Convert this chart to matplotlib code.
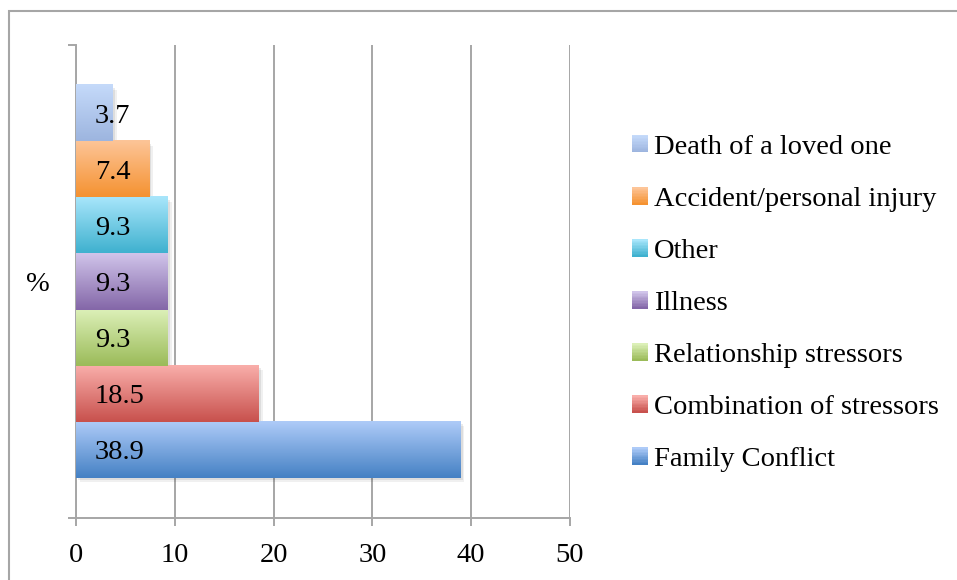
import numpy as np
import matplotlib
matplotlib.use("Agg")
import matplotlib.pyplot as plt
from matplotlib.colors import to_rgb
from matplotlib.patches import Rectangle
from matplotlib import patheffects as pe

# stressor categories, bottom bar first
categories = ["Family Conflict", "Combination of stressors", "Relationship stressors",
              "Illness", "Other", "Accident/personal injury", "Death of a loved one"]
percent = [38.9, 18.5, 9.3, 9.3, 9.3, 7.4, 3.7]
top_colors = ["#aecbf8", "#f9aeaa", "#dcf0b8", "#d0c4ea", "#a9e6fb", "#fdc598", "#c5dafa"]
bottom_colors = ["#4581c4", "#c8514d", "#9bbb59", "#8467a8", "#3fb1cf", "#f59231", "#9db5df"]
x_ticks = [0, 10, 20, 30, 40, 50]

plt.rcParams["font.family"] = ["Liberation Serif", "DejaVu Serif"]
FS = 20.5
GRID = "#a6a6a6"


def ramp(top, bottom, n=64):
    t = np.linspace(0, 1, n)[:, None]
    return (1 - t) * np.array(to_rgb(top)) + t * np.array(to_rgb(bottom))


class Swatch:
    def __init__(self, top, bottom):
        self.top, self.bottom = top, bottom


class SwatchHandler:
    def legend_artist(self, legend, orig_handle, fontsize, handlebox):
        x0, y0 = -handlebox.xdescent, -handlebox.ydescent
        w, h = handlebox.width, handlebox.height
        cols = ramp(orig_handle.top, orig_handle.bottom, 12)
        n = len(cols)
        art = None
        for k, c in enumerate(cols):
            art = Rectangle((x0, y0 + h * (n - 1 - k) / n), w, h / n * 1.05,
                            facecolor=c, edgecolor="none",
                            transform=handlebox.get_transform())
            handlebox.add_artist(art)
        return art


fig = plt.figure(figsize=(9.57, 5.8), dpi=100)
ax = fig.add_axes([76 / 957, 62 / 580, 494 / 957, 473 / 580])

ypos = np.arange(len(categories))
bars = ax.barh(ypos, percent, height=1.0, facecolor="none", edgecolor="none", zorder=2)

for i, (bar, v) in enumerate(zip(bars, percent)):
    x0, y0 = bar.get_x(), bar.get_y()
    w, h = bar.get_width(), bar.get_height()
    shadow = Rectangle((x0, y0), w, h, facecolor="none", edgecolor="none", zorder=2 + i * 0.01,
                       path_effects=[pe.SimplePatchShadow(offset=(3, -3), shadow_rgbFace="k", alpha=0.06),
                                     pe.SimplePatchShadow(offset=(1.6, -1.6), shadow_rgbFace="k", alpha=0.08)])
    ax.add_patch(shadow)
    grad = ramp(top_colors[i], bottom_colors[i])[:, None, :]
    ax.imshow(grad, extent=[x0, x0 + w, y0, y0 + h], aspect="auto",
              interpolation="bilinear", origin="upper", zorder=3 + i * 0.01)
    ax.annotate(f"{v}", xy=(0, bar.get_y() + h / 2), xytext=(13.7, 0),
                textcoords="offset points", ha="left", va="center_baseline",
                fontsize=FS, color="black", zorder=5)

ax.set_xlim(0, 50)
ax.set_ylim(-1.22, 7.22)
ax.set_xticks(x_ticks)
ax.set_xticklabels([str(t) for t in x_ticks], fontsize=FS)
ax.grid(axis="x", color=GRID, linewidth=1.4, zorder=0)
ax.set_axisbelow(True)

ax.set_yticks([np.mean(ax.get_ylim())])
ax.set_yticklabels(["%"], fontsize=FS)
ax.set_yticks(list(ax.get_ylim()), minor=True)
ax.tick_params(axis="y", which="major", length=0, pad=19)
ax.tick_params(axis="y", which="minor", length=6, width=1.4, color=GRID)
ax.tick_params(axis="x", length=6, width=1.4, color=GRID, pad=12)

for side in ("top", "right"):
    ax.spines[side].set_visible(False)
for side in ("left", "bottom"):
    ax.spines[side].set_color(GRID)
    ax.spines[side].set_linewidth(1.4)

handles = [Swatch(t, b) for t, b in zip(top_colors, bottom_colors)][::-1]
fig.legend(handles, categories[::-1], handler_map={Swatch: SwatchHandler()},
           loc="center left", bbox_to_anchor=(632 / 957, 1 - 303.5 / 580),
           frameon=False, fontsize=FS, borderpad=0, borderaxespad=0,
           handlelength=0.56, handleheight=0.56, handletextpad=0.2,
           labelspacing=0.95)

fig.patches.append(Rectangle((9 / 957, -3 / 580), 955 / 957, 572 / 580,
                             transform=fig.transFigure, fill=False,
                             edgecolor=GRID, linewidth=1.5))

fig.savefig("out.png", dpi=100)
